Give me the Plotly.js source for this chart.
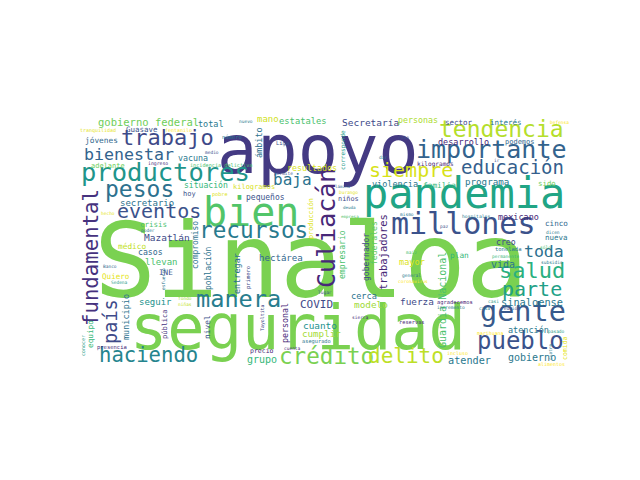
<!DOCTYPE html>
<html><head><meta charset="utf-8">
<script src="https://cdn.plot.ly/plotly-3.0.1.min.js"></script>
<style>html,body{margin:0;padding:0;background:#fff;}</style>
</head><body><div id="chart" style="width:640px;height:480px;"></div>
<script>
var words = ["Sinaloa","seguridad","apoyo","pandemia","bien","millones","productores","importante","tendencia","Culiacán","recursos","manera","crédito","delito","pueblo","gente","salud","parte","trabajo","pesos","eventos","haciendo","fundamental","país","educación","siempre","bienestar","toda","baja",
"gobierno federal","total","Secretaría","estatales","mano","personas","sector","interés","Defensa","nuevo","número","tranquilidad","Guasave","fentanilo","jóvenes","vacuna","medio","adelante","ingreso","incidencia delictiva","ámbito","Liga","corresponde","robo","dar","resultados","kilogramos","desarrollo","podemos","ir","violencia","familia","programa","sido","situación","kilogramos","hoy","pobre","pequeños","permite","Durango","lámina","niños","deuda","empresa","producción","secretario","hecho","crisis","poder","Mazatlán","médico","casos","compromiso","llevan","Banco","Quiero","INE","Sedena","población","esfuerzo","entregar","primero","hectárea","empresario","gobernador","federales","trabajadores","mismo","hospitales","mexicano","cinco","paz","dicen","creo","nueva","tonelada","sólo","maíz","mayor","plan","permanente","subsidio","vida","Guardia Nacional","general","coronavirus","fuerza","agradecemos","incremento","casi","sinaloense","casa","reunión","reservas","atención","pasado","marihuana","comida","cuatro","incluso","atender","gobierno","alimentos","COVID","lugar","cerca","modelo","Tayoltita","personal","sierra","cuanto","cumplir","asegurado","cuenta","precio","grupo","municipio","seguir","fondo","niñas","pública","nivel","equipo","conocer","presencia"];

var xs = [311,298,318,464,251,463,165,491,501,326,253,238,326,406,520,523,532,532,167,139,159,148,91,110,512,411,129,544,292,
148,211,370,303,268,418,459,506,559,246,232,98,142,178,101,193,212,108,158,221,259,282,343,403,383,312,435,463,520,497,395,439,487,547,206,254,189,220,265,283,348,343,348,349,350,311,147,108,153,148,167,132,150,195,161,110,116,166,119,208,163,237,248,281,342,366,374,383,407,476,518,556,444,553,506,556,508,545,411,412,459,505,552,503,442,411,413,417,455,451,493,532,484,510,412,528,556,490,565,550,457,469,532,551,316,325,364,371,262,285,360,320,321,316,292,262,262,126,155,185,185,165,207,90,83,112];

var ys = [261,327,150,193,212,223,172,149,129,228,230,299,356,356,341,311,270,289,137,189,211,355,258,322,167,170,154,251,179,
122,124,122,121,119,120,122,122,122,121,137,130,129,130,140,158,152,166,164,165,143,143,150,137,157,168,164,142,142,160,184,185,181,183,185,187,194,194,197,173,192,186,199,207,216,219,203,213,224,230,237,246,252,245,262,266,276,272,282,268,279,274,278,258,255,257,243,252,214,216,217,223,226,232,242,237,249,247,252,262,255,256,262,264,300,275,281,301,302,307,301,302,308,308,322,330,331,333,348,352,353,360,357,364,304,292,296,304,318,323,317,325,333,341,348,351,359,317,302,298,304,324,327,334,346,347];

var sizes = [103,62,67,42,40,30,25.5,25,23,25,22.7,23.6,22.6,21,24,28.5,22,20,22,23,20,20.6,20.7,18.6,19,20,16.6,16.5,16,
10.5,8.5,9.5,8.8,9,8.3,7.5,7.5,4.5,4.5,5.5,5,7.5,5,7.8,8.3,4.5,7,4.8,5.2,8.5,5.5,6,4.5,4.5,8.3,6.1,8.5,7,4.5,8.5,7.8,9.2,7.4,8.1,7,7,5.2,8,4.5,4.5,4.2,6.9,4.2,4.2,6.8,9,4.5,7.5,4.5,9.5,7.8,8.2,8,9,4.5,7.6,7.6,4.5,8,4.5,8.5,5.5,9.1,8.1,8,8.1,10.5,4.5,4.7,8.5,7.6,4.5,4.5,8.2,7.5,5.5,4.5,4.5,8.6,7.8,4.5,4.5,10,10,4.5,4.5,9.4,5.4,4.6,4.5,10.3,4.5,4.5,5.3,8.5,4.5,4.9,6.5,4.5,5,10.2,10,5,11,4.5,8.6,9.4,4.9,8.3,4.5,9.4,9.2,5.3,4.5,6.5,10,8.5,9,4.5,4.5,7,7.9,7.7,5,5.5];

var colors = ["#7ad151","#7ad151","#443a83","#21a585","#52c569","#3b528b","#1f958b","#33638d","#b5de2b","#482878","#297a8e","#287d8e","#7ad151","#bddf26","#3b528b","#38598c","#2ab07f","#1fa187","#3e4a89","#2d718e","#3b528b","#25848e","#46327e","#3e4a89","#355f8d","#d8e219","#33638d","#2d708e","#2c728e",
"#6ece58","#297a8e","#3e4a89","#4ac16d","#d0e11c","#addc30","#3e4a89","#2a788e","#fde725","#2a788e","#2a788e","#e5e419","#3b528b","#fde725","#31688e","#2a788e","#3b528b","#6ece58","#482878","#4ac16d","#2c728e","#3b528b","#2a9d8a","#3b528b","#2a788e","#d8e219","#482878","#482878","#31688e","#3b528b","#2a788e","#35b779","#2a788e","#6ece58","#35b779","#d8e219","#3b528b","#dde318","#3b528b","#3b528b","#e5e419","#31688e","#3e4a89","#2a788e","#4ac16d","#dde318","#2c728e","#e5e419","#4ac16d","#2a788e","#3e4a89","#c2df23","#31688e","#2c728e","#4ac16d","#31688e","#e5e419","#3b528b","#2a9d8a","#2c728e","#2c728e","#2c728e","#3e4a89","#31688e","#4ac16d","#3e4a89","#5ec962","#482878","#2a788e","#2a788e","#482878","#31688e","#3b528b","#2a788e","#3e4a89","#2a788e","#2a788e","#4ac16d","#4ac16d","#dde318","#35b779","#35b779","#2a788e","#2a788e","#4ac16d","#2a788e","#fde725","#3e4a89","#482878","#2a788e","#2a9d8a","#2a788e","#2a788e","#3b528b","#482878","#2a788e","#2a9d8a","#fde725","#e5e419","#2a788e","#fde725","#2a788e","#2a788e","#fde725","#3e4a89","#3b528b","#2c728e","#a0da39","#3e4a89","#482878","#482878","#21918c","#a5db36","#2a788e","#482878","#482878","#35b779","#2c728e","#21918c","#a5db36","#c2df23","#46327e","#3b528b","#35b779","#2a9d8a","#482878"];

var vertical = [0,0,0,0,0,0,0,0,0,1,0,0,0,0,0,0,0,0,0,0,0,0,1,1,0,0,0,0,0,
0,0,0,0,0,0,0,0,0,0,0,0,0,0,0,0,0,0,0,0,1,0,1,0,0,0,0,0,0,0,0,0,0,0,0,0,0,0,0,0,0,0,0,0,0,1,0,0,0,0,0,0,0,1,0,0,0,0,0,1,1,1,1,0,1,1,1,1,0,0,0,0,0,0,0,0,0,0,0,0,0,0,0,0,1,0,0,0,0,0,0,0,0,0,0,0,0,0,1,1,0,0,0,0,0,0,0,0,1,1,0,0,0,0,0,0,0,1,0,0,0,1,1,1,1,0];

var annotations = words.map(function(w, i){
  return {
    text: w, x: xs[i], y: ys[i], xref: 'x', yref: 'y',
    showarrow: false, xanchor: 'center', yanchor: 'middle',
    textangle: vertical[i] ? -90 : 0, borderpad: 0,
    font: {family: '"DejaVu Sans Mono", monospace', size: sizes[i], color: colors[i]}
  };
});

var layout = {
  width: 640, height: 480, autosize: false,
  margin: {l:0, r:0, t:0, b:0, pad:0},
  paper_bgcolor: '#ffffff', plot_bgcolor: '#ffffff',
  showlegend: false,
  xaxis: {range: [0, 640], visible: false, fixedrange: true},
  yaxis: {range: [480, 0], visible: false, fixedrange: true},
  annotations: annotations
};
Plotly.newPlot('chart', [{x: [], y: [], type: 'scatter', mode: 'markers', hoverinfo: 'skip'}], layout, {staticPlot: true, displayModeBar: false});
</script></body></html>
